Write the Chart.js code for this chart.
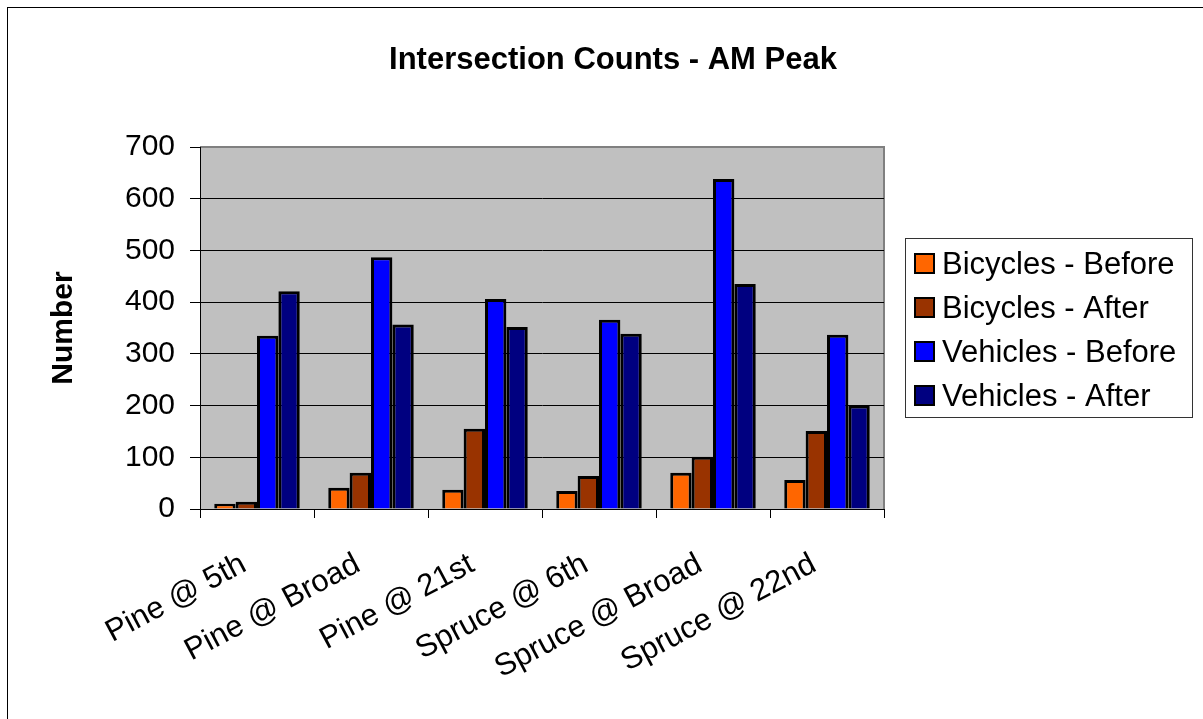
<!DOCTYPE html>
<html>
<head>
<meta charset="utf-8">
<script src="https://cdn.jsdelivr.net/npm/chart.js@4.4.1/dist/chart.umd.min.js"></script>
<style>
  body { margin: 0; background: #fff; }
  canvas { display: block; }
</style>
</head>
<body>
<canvas id="countChart" width="1203" height="719"></canvas>
<script>
// data
const intersections = ["Pine @ 5th", "Pine @ Broad", "Pine @ 21st", "Spruce @ 6th", "Spruce @ Broad", "Spruce @ 22nd"];
const bikesBefore = [10, 41, 37, 35, 70, 56];
const bikesAfter = [14, 70, 155, 64, 101, 151];
const carsBefore = [335, 487, 406, 366, 638, 337];
const carsAfter = [421, 357, 352, 339, 435, 200];
const yTicks = [0, 100, 200, 300, 400, 500, 600, 700];

const seriesNames = ["Bicycles - Before", "Bicycles - After", "Vehicles - Before", "Vehicles - After"];
const seriesColors = ["#ff6600", "#993300", "#0000ff", "#000080"];

const FONT = "'Liberation Sans', Arial, sans-serif";

// plot background, frame, title and the boxed legend
const frame = {
  id: "frame",
  beforeDraw(chart) {
    const { ctx, chartArea: a } = chart;
    ctx.save();
    ctx.fillStyle = "#c0c0c0";
    ctx.fillRect(a.left, a.top, a.right - a.left, a.bottom - a.top);
    ctx.strokeStyle = "#808080";
    ctx.lineWidth = 2;
    ctx.beginPath();
    ctx.moveTo(a.left, a.top);
    ctx.lineTo(a.right, a.top);
    ctx.lineTo(a.right, a.bottom);
    ctx.stroke();
    ctx.restore();
  },
  afterDraw(chart) {
    const ctx = chart.ctx;
    ctx.save();
    // outer border
    ctx.strokeStyle = "#000";
    ctx.lineWidth = 1;
    ctx.strokeRect(7.5, 7.5, 1300, 800);

    // title
    ctx.fillStyle = "#000";
    ctx.font = "bold 31px " + FONT;
    ctx.textAlign = "center";
    ctx.textBaseline = "alphabetic";
    ctx.fillText("Intersection Counts - AM Peak", 613, 69);

    // legend
    ctx.strokeStyle = "#333";
    ctx.lineWidth = 1;
    ctx.strokeRect(905.5, 238.5, 287, 179);
    ctx.font = "31px " + FONT;
    ctx.textAlign = "left";
    ctx.textBaseline = "middle";
    chart.data.datasets.forEach((ds, i) => {
      const cy = 264 + i * 44;
      ctx.fillStyle = ds.backgroundColor;
      ctx.fillRect(915, cy - 10, 19, 19);
      ctx.strokeStyle = "#000";
      ctx.lineWidth = 2;
      ctx.strokeRect(915, cy - 10, 19, 19);
      ctx.fillStyle = "#000";
      ctx.fillText(ds.label, 942, cy + 1);
    });
    ctx.restore();
  }
};

const seriesData = [bikesBefore, bikesAfter, carsBefore, carsAfter];

new Chart(document.getElementById("countChart"), {
  type: "bar",
  data: {
    labels: intersections,
    datasets: seriesData.map((vals, i) => ({
      label: seriesNames[i],
      data: vals,
      backgroundColor: seriesColors[i],
      borderColor: "#000",
      borderWidth: 3,
      categoryPercentage: 0.75,
      barPercentage: 1.0
    }))
  },
  options: {
    responsive: false,
    animation: false,
    layout: { padding: { top: 147, right: 319, left: 0, bottom: 0 } },
    plugins: {
      legend: { display: false },
      title: { display: false },
      tooltip: { enabled: false }
    },
    scales: {
      x: {
        afterFit(scale) { scale.height = 210; },
        grid: {
          offset: true,
          drawOnChartArea: false,
          drawTicks: true,
          tickLength: 9,
          color: "#000"
        },
        border: { color: "#000", width: 1 },
        ticks: {
          color: "#000",
          font: { family: FONT, size: 31 },
          minRotation: 28,
          maxRotation: 28,
          padding: 28,
          labelOffset: -13
        }
      },
      y: {
        min: 0,
        max: 700,
        afterFit(scale) { scale.width = 200; },
        afterBuildTicks(scale) { scale.ticks = yTicks.map(v => ({ value: v })); },
        grid: {
          color: ctx => (ctx.tick && ctx.tick.value === 700 ? "#808080" : "#000"),
          tickColor: "#000",
          tickLength: 10,
          lineWidth: 1
        },
        border: { color: "#000", width: 1 },
        ticks: {
          color: "#000",
          font: { family: FONT, size: 30 },
          padding: 15
        },
        title: {
          display: true,
          text: "Number",
          color: "#000",
          font: { family: FONT, size: 30, weight: "bold" },
          padding: { top: 46, bottom: 0 }
        }
      }
    }
  },
  plugins: [frame]
});
</script>
</body>
</html>
